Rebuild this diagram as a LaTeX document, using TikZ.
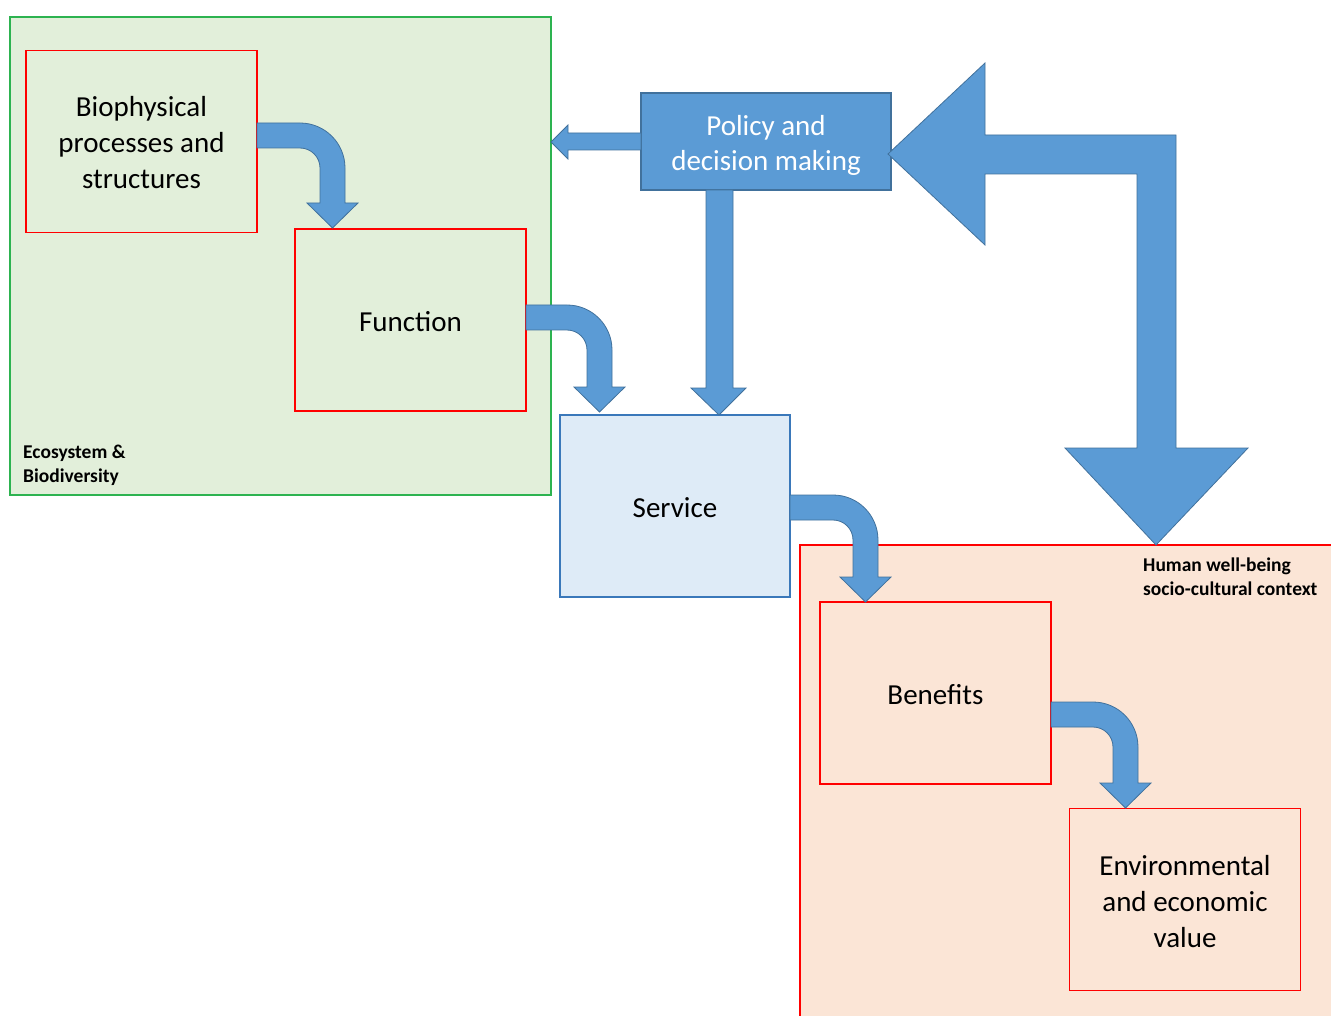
\documentclass[tikz,border=0pt]{standalone}
\usepackage{fontspec}
\setmainfont{Carlito}
\definecolor{arrowfill}{HTML}{5B9BD5}
\definecolor{arrowline}{HTML}{41719C}
\definecolor{greenfill}{HTML}{E2EFDA}
\definecolor{greenline}{HTML}{2DB350}
\definecolor{orangefill}{HTML}{FBE5D6}
\definecolor{servicefill}{HTML}{DEEBF7}
\definecolor{serviceline}{HTML}{3A78BA}
\tikzset{
  x=1pt,y=-1pt,
  bigtext/.style={font=\fontsize{29}{36}\selectfont,align=center,text=black,inner sep=0pt},
  redbox/.style={draw=red,line width=1.3pt,minimum width=231pt,minimum height=182pt,inner sep=0pt},
  smalllabel/.style={font=\bfseries\fontsize{19.5}{24}\selectfont,align=left,inner sep=0pt,anchor=west},
  blockarrow/.style={fill=arrowfill,draw=arrowline,line width=0.8pt,line join=miter},
}
% curved block arrow: #1 start x, #2 top y, #3 right x of vertical shaft, #4 tip y
\newcommand\curvedblock[4]{%
  \path[blockarrow] (#1,#2) -- ({#3-45},#2) arc[start angle=-90,end angle=0,radius=45]
    -- (#3,{#4-25}) -- ({#3+13},{#4-25}) -- ({#3-12.5},#4) -- ({#3-38},{#4-25})
    -- ({#3-25},{#4-25}) -- ({#3-25},{#2+45}) arc[start angle=0,end angle=-90,radius=20]
    -- (#1,{#2+25}) -- cycle;}
\begin{document}
\begin{tikzpicture}
\useasboundingbox (0,0) rectangle (1331,1016);
\fill[white] (0,0) rectangle (1331,1016);
% background regions
\node[draw=greenline,fill=greenfill,line width=1.3pt,minimum width=541pt,minimum height=478pt,inner sep=0pt] (eco) at (280.5,256) {};
\path[draw=red,fill=orangefill,line width=1.3pt] (800,1030) -- (800,545) -- (1345,545) -- (1345,1030) -- cycle;
\node[smalllabel] (ecolabel) at (23,465.5) {Ecosystem \&\\Biodiversity};
\node[smalllabel] (humanlabel) at (1143,576.5) {Human well-being\\socio-cultural context};
% boxes
\node[redbox] (bio) at (141.5,141.5) {};
\node[bigtext] (biotext) at ([yshift=-1pt]bio.center) {Biophysical\\processes and\\structures};
\node[redbox] (func) at (410.5,320) {};
\node[bigtext] (functext) at ([yshift=-2pt]func.center) {Function};
\node[draw=serviceline,fill=servicefill,line width=1.3pt,minimum width=230pt,minimum height=182pt,inner sep=0pt] (serv) at (675,506) {};
\node[bigtext] (servtext) at ([yshift=-2pt]serv.center) {Service};
\node[draw=arrowline,fill=arrowfill,line width=1.2pt,minimum width=250pt,minimum height=97pt,inner sep=0pt] (policy) at (766,141.5) {};
\node[bigtext,text=white,font=\fontsize{29}{35}\selectfont] (policytext) at ([yshift=-3.5pt]policy.center) {Policy and\\decision making};
\node[redbox] (ben) at (935.5,693) {};
\node[bigtext] (bentext) at ([yshift=-2pt]ben.center) {Benefits};
\node[redbox] (env) at (1185,899.5) {};
\node[bigtext] (envtext) at ([yshift=-2pt]env.center) {Environmental\\and economic\\value};
% curved arrows
\curvedblock{257}{123}{345}{228}
\curvedblock{526}{305}{612}{412}
\curvedblock{790}{495}{878}{602}
\curvedblock{1051}{702}{1138}{808}
% policy arrows
\path[blockarrow] (641,133) -- (568,133) -- (568,125) -- (551,142) -- (568,159) -- (568,150) -- (641,150) -- cycle;
\path[blockarrow] (706,190) -- (706,388) -- (691,388) -- (719,415) -- (746,388) -- (733,388) -- (733,190) -- cycle;
% big two-headed bent arrow
\path[blockarrow] (888,154) -- (985,63) -- (985,135) -- (1176,135) -- (1176,448) -- (1248,448)
  -- (1156,545) -- (1065,448) -- (1137,448) -- (1137,174) -- (985,174) -- (985,245) -- cycle;
\end{tikzpicture}
\end{document}
